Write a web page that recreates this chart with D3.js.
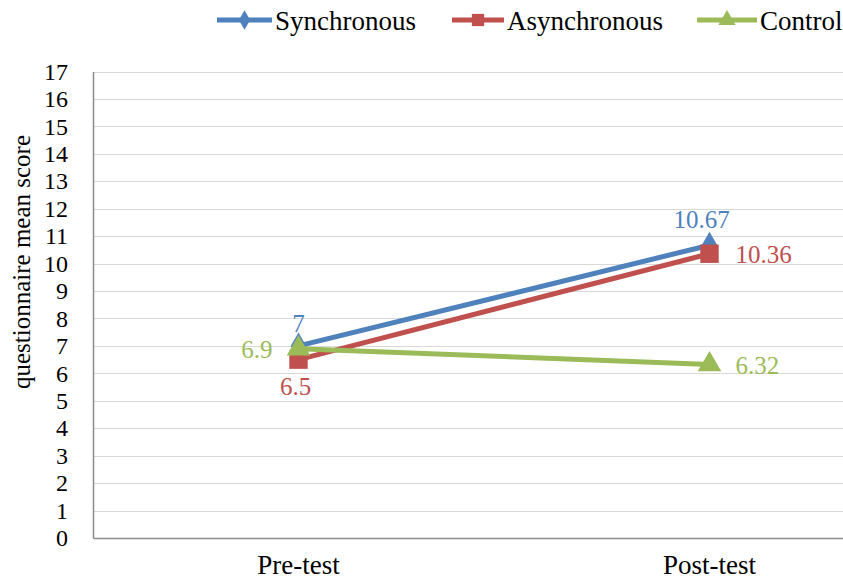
<!DOCTYPE html>
<html><head><meta charset="utf-8">
<script src="https://cdn.jsdelivr.net/npm/d3@7"></script>
<style>
html,body{margin:0;padding:0;background:#fff;overflow:hidden}
text{font-family:"Liberation Serif","Times New Roman",serif}
</style></head>
<body><svg id="c" width="843" height="583"></svg>
<script>
const categories = ["Pre-test", "Post-test"];
const seriesNames = ["Synchronous", "Asynchronous", "Control"];
const synchronous = [7, 10.67];
const asynchronous = [6.5, 10.36];
const control = [6.9, 6.32];
const yTicks = d3.range(0, 18);
const colors = ["#4F81BD", "#C0504D", "#9BBB59"];
const shapes = [d3.symbolDiamond, d3.symbolSquare, d3.symbolTriangle];

const series = [
  {name: seriesNames[0], values: synchronous, color: colors[0], shape: shapes[0], size: 210, lsize: 110},
  {name: seriesNames[1], values: asynchronous, color: colors[1], shape: shapes[1], size: 340, lsize: 150},
  {name: seriesNames[2], values: control, color: colors[2], shape: shapes[2], size: 240, lsize: 130}
];

const svg = d3.select("#c");
const pLeft = 93, pRight = 915, pTop = 71.5, pBottom = 538;
const x = d3.scaleBand().domain(categories).range([pLeft, pRight]);
const y = d3.scaleLinear().domain([0, 17]).range([pBottom, pTop]);

// grid
svg.append("g").selectAll("line").data(yTicks.filter(d => d > 0)).join("line")
  .attr("x1", pLeft).attr("x2", pRight)
  .attr("y1", d => Math.round(y(d)) + 0.5).attr("y2", d => Math.round(y(d)) + 0.5)
  .attr("stroke", "#d9d9d9").attr("stroke-width", 1);

// axes
const yAxis = svg.append("g").attr("transform", `translate(${pLeft},0)`)
  .call(d3.axisLeft(y).tickValues(yTicks).tickSize(0).tickPadding(25).tickFormat(d3.format("d")));
yAxis.select(".domain").attr("stroke", "#8c8c8c").attr("stroke-width", 1.5);
yAxis.selectAll("text").attr("font-size", 24).attr("fill", "#000")
  .attr("font-family", "Liberation Serif");

const xAxis = svg.append("g").attr("transform", `translate(0,${pBottom})`)
  .call(d3.axisBottom(x).tickSize(0).tickPadding(17));
xAxis.select(".domain").attr("stroke", "#8c8c8c").attr("stroke-width", 1.5);
xAxis.selectAll("text").attr("font-size", 27).attr("fill", "#000")
  .attr("font-family", "Liberation Serif");

// y title
svg.append("text").attr("transform", `translate(30,262) rotate(-90)`)
  .attr("text-anchor", "middle").attr("font-size", 25).attr("fill", "#000")
  .text("questionnaire mean score");

// series
const line = d3.line().x((d, i) => x(categories[i]) + x.bandwidth() / 2).y(d => y(d));
series.forEach(s => {
  const g = svg.append("g");
  g.append("path").datum(s.values).attr("d", line)
    .attr("fill", "none").attr("stroke", s.color).attr("stroke-width", 5);
  g.selectAll("path.m").data(s.values).join("path").attr("class", "m")
    .attr("transform", (d, i) => `translate(${x(categories[i]) + x.bandwidth() / 2},${y(d)})`)
    .attr("d", d3.symbol().type(s.shape).size(s.size)).attr("fill", s.color);
});

// data labels
const labelSpecs = [
  {s: 0, i: 0, dx: 0, dy: -14, anchor: "middle"},
  {s: 0, i: 1, dx: -8, dy: -17, anchor: "middle"},
  {s: 1, i: 0, dx: -3, dy: 35, anchor: "middle"},
  {s: 1, i: 1, dx: 26, dy: 9, anchor: "start"},
  {s: 2, i: 0, dx: -26, dy: 9, anchor: "end"},
  {s: 2, i: 1, dx: 26, dy: 9, anchor: "start"}
];
svg.append("g").selectAll("text").data(labelSpecs).join("text")
  .attr("x", d => x(categories[d.i]) + x.bandwidth() / 2 + d.dx)
  .attr("y", d => y(series[d.s].values[d.i]) + d.dy)
  .attr("text-anchor", d => d.anchor).attr("font-size", 25)
  .attr("fill", d => series[d.s].color)
  .text(d => series[d.s].values[d.i]);

// legend
const legendX = [217, 452, 697];
const legendLen = [55, 52, 60];
const lg = svg.append("g");
series.forEach((s, k) => {
  const g = lg.append("g");
  g.append("line").attr("x1", legendX[k]).attr("x2", legendX[k] + legendLen[k])
    .attr("y1", 20).attr("y2", 20).attr("stroke", s.color).attr("stroke-width", 5);
  g.append("path").attr("transform", `translate(${legendX[k] + legendLen[k] / 2},20)`)
    .attr("d", d3.symbol().type(s.shape).size(s.lsize)).attr("fill", s.color);
  g.append("text").attr("x", legendX[k] + legendLen[k] + 3).attr("y", 30)
    .attr("font-size", 27).attr("fill", "#000").text(s.name);
});
</script></body></html>
